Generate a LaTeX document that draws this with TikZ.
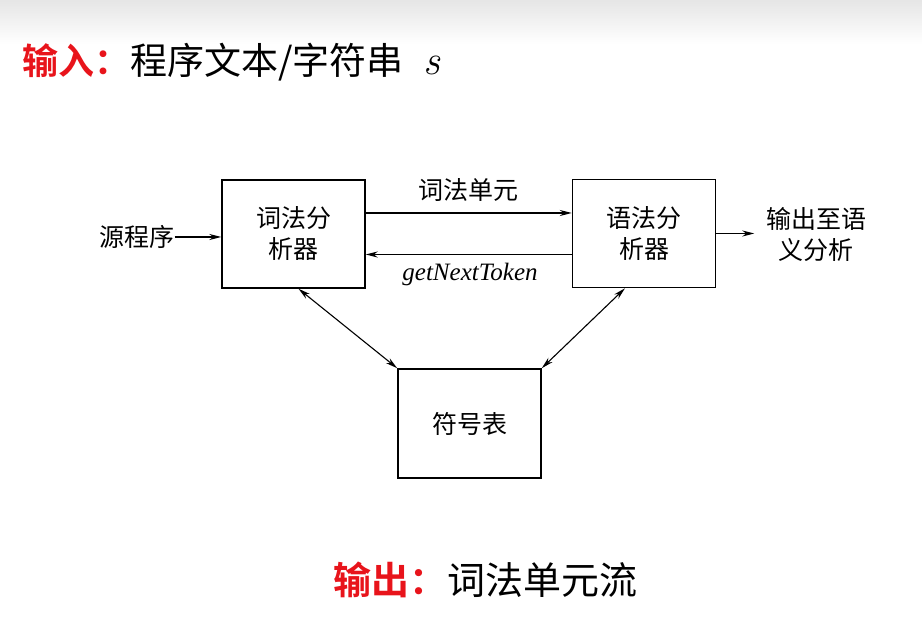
\documentclass[tikz,border=0pt]{standalone}
\usepackage{fontspec}
\usetikzlibrary{arrows.meta,calc}
\newfontfamily\cjk{Noto Sans CJK SC}
\newfontfamily\cjkb{Noto Sans CJK SC Bold}
\newfontfamily\tnr{Liberation Serif}
\definecolor{hdrred}{HTML}{E8141B}
\tikzset{
  box/.style={draw=black, line width=1.5pt, minimum width=143pt, minimum height=108pt, inner sep=0pt, font=\cjk\fontsize{25}{31}\selectfont, align=center},
  lbl/.style={inner sep=0pt, font=\cjk\fontsize{25}{31}\selectfont, align=center},
  conn/.style={line width=1.1pt, -{Stealth[length=12pt,width=6pt]}},
  dconn/.style={line width=1.1pt, {Stealth[length=12pt,width=6pt]}-{Stealth[length=12pt,width=6pt]}},
}
\begin{document}
\begin{tikzpicture}[x=1pt,y=1pt]
\useasboundingbox (0,0) rectangle (922,619);
\shade[top color=black!10, bottom color=white] (0,575) rectangle (922,619);
% header
\node[anchor=west, inner sep=0pt] (hdr) at (22,557)
  {{\cjkb\fontsize{36}{42}\selectfont\color{hdrred}输入：}{\cjk\fontsize{37}{42}\selectfont 程序文本/字符串}\hspace{20pt}{\fontsize{42}{46}\selectfont\itshape s}};
% boxes
\node[box] (lex) at (293.5,385) {词法分\\析器};
\node[box] (par) at (644,385.5) {语法分\\析器};
\node[box, minimum height=109pt] (sym) at (469.5,195.5) {符号表};
% labels
\node[lbl] (src) at (137,382) {源程序};
\node[lbl] (out) at (816,384) {输出至语\\义分析};
\node[lbl] (tok) at (468,429) {词法单元};
\node[inner sep=0pt, font=\tnr\itshape\fontsize{25}{30}\selectfont] (gnt) at (470,345) {getNextToken};
% connectors
\draw[conn] (src.east) -- (src.east -| lex.west);
\draw[conn] ([yshift=21pt]lex.east) -- ([yshift=21pt]lex.east -| par.west);
\draw[conn] ([yshift=-21pt]par.west) -- ([yshift=-21pt]par.west -| lex.east);
\draw[conn] (par.east) -- ++(38,0) coordinate (oe);
\draw[dconn] ([xshift=5pt]lex.south) -- (sym.north west);
\draw[dconn] ([xshift=-19pt]par.south) -- (sym.north east);
% footer
\node[anchor=west, inner sep=0pt] (ftr) at (333,39)
  {{\cjkb\fontsize{38}{44}\selectfont\color{hdrred}输出：}{\cjk\fontsize{38}{44}\selectfont 词法单元流}};
\end{tikzpicture}
\end{document}
